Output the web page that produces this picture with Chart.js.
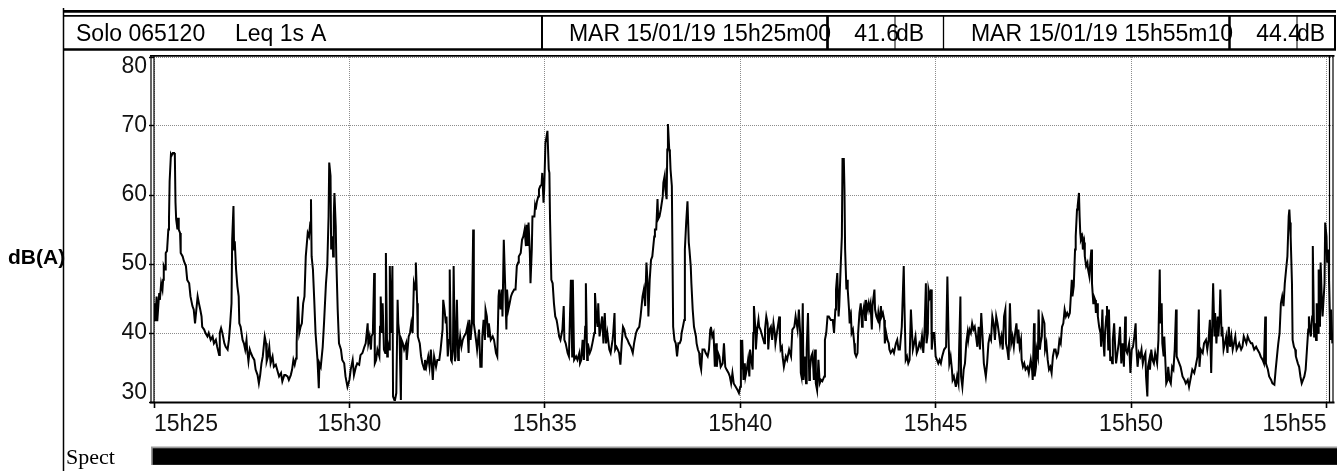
<!DOCTYPE html>
<html>
<head>
<meta charset="utf-8">
<script src="https://cdn.jsdelivr.net/npm/chart.js@4.4.1/dist/chart.umd.min.js"></script>
<style>
  html, body { margin: 0; padding: 0; background: #fff; }
  #wrap { width: 1341px; height: 471px; }
</style>
</head>
<body>
<div id="wrap"><canvas id="levelChart" width="1341" height="471"></canvas></div>
<script>
// Seconds after 15h25m00
const times = [
  0, 1, 2, 4, 5, 8, 9, 11, 13, 14,
  15, 17, 18, 20, 22, 23, 24, 26, 27, 29,
  31, 32, 33, 34, 36, 37, 38, 40, 41, 44,
  46, 49, 51, 54, 56, 59, 61, 63, 65, 67,
  69, 71, 73, 74, 77, 79, 82, 84, 87, 90,
  92, 95, 97, 100, 101, 103, 105, 108, 110, 113,
  115, 117, 119, 120, 122, 123, 124, 126, 128, 130,
  131, 133, 136, 138, 140, 142, 143, 145, 147, 148,
  151, 154, 156, 159, 161, 163, 165, 167, 170, 172,
  173, 175, 177, 179, 182, 184, 187, 189, 192, 195,
  197, 200, 202, 205, 207, 210, 212, 214, 216, 218,
  219, 221, 223, 225, 227, 229, 231, 233, 236, 238,
  240, 241, 242, 244, 246, 248, 251, 253, 254, 256,
  259, 261, 264, 266, 268, 269, 271, 272, 274, 275,
  276, 277, 279, 280, 282, 284, 287, 289, 292, 294,
  297, 300, 302, 305, 307, 310, 312, 315, 317, 320,
  323, 325, 328, 329, 331, 333, 334, 336, 338, 339,
  341, 343, 346, 347, 348, 350, 351, 353, 355, 356,
  358, 359, 361, 362, 364, 366, 367, 369, 370, 372,
  374, 375, 377, 379, 380, 382, 384, 387, 388, 391,
  393, 395, 397, 399, 401, 402, 404, 405, 408, 410,
  412, 415, 416, 418, 421, 423, 425, 428, 430, 433,
  435, 438, 440,
  443, 444, 446, 448, 449, 451, 453, 454, 456, 457,
  459, 460, 462, 463, 465, 467, 468, 470, 472, 474,
  476, 479, 481, 483, 484, 486, 488, 490, 491, 493,
  495, 496, 499, 501, 503, 504, 506, 508, 509, 511,
  513, 514, 517, 520, 522, 525, 527, 529, 530, 532,
  534, 535, 537, 539, 541, 542, 544, 546, 548, 550,
  553, 555, 557, 559, 560, 563, 565, 567, 569, 571,
  572, 574, 575, 577, 578, 580, 581, 584, 585, 586,
  588, 590, 591, 593, 595, 596, 598, 599, 601, 602,
  604, 606, 607, 608, 610, 612, 614, 616, 618, 619,
  622, 624, 627, 629, 630, 632, 635, 637, 640, 642,
  643, 645, 648, 650, 653, 654, 656, 658, 660, 662,
  663, 665, 666, 669, 671, 673, 676, 677, 679, 681,
  682, 684, 686, 688, 690, 692, 694, 696, 699, 701,
  704, 705, 707, 708, 710, 712, 714, 716, 718, 720,
  722, 724, 727, 729, 732, 735, 737, 740, 742, 745,
  747, 750, 752, 754, 756, 758, 759, 761, 763, 765,
  768, 769, 771, 773, 774, 776, 778, 781, 782, 784,
  785, 787, 788, 789, 791, 792, 793, 795, 797, 799,
  801, 803, 805, 807, 809, 810, 812, 814, 815, 817,
  819, 821, 822, 824, 825, 827, 829, 832, 833, 835,
  837, 838, 840, 842, 845, 847, 850, 852, 854, 855,
  857, 859, 861, 863, 864, 866, 868, 870, 873, 875,
  877, 879, 882, 884, 886,
  888, 890, 893, 896, 898, 900, 901, 902, 903, 905,
  907, 908, 910, 912, 914, 915, 917, 919, 920, 921,
  923, 924, 926, 928, 929, 931, 934, 937, 938, 940,
  942, 943, 945, 947, 949, 951, 953, 954, 957, 960,
  961, 962, 964, 965, 967, 970, 972, 975, 978, 980,
  983, 985, 988, 990, 992, 993, 994, 996, 997, 999,
  1001, 1002, 1004, 1006, 1007, 1009, 1011, 1013, 1015, 1016,
  1018, 1020, 1022, 1024, 1026, 1029, 1030, 1032, 1034, 1036,
  1039, 1042, 1044, 1046, 1047, 1049, 1051, 1052, 1054, 1056,
  1057, 1059, 1060, 1061, 1063, 1064, 1065, 1067, 1068, 1070,
  1071, 1073, 1075, 1076, 1078, 1080, 1081, 1083, 1085, 1087,
  1088, 1090, 1092, 1093, 1095, 1097, 1098, 1100, 1102, 1103,
  1106, 1107, 1109, 1111, 1112, 1114, 1116, 1117, 1119, 1121,
  1122, 1124, 1126, 1128, 1129, 1131, 1134, 1136, 1139, 1141,
  1143, 1145, 1148, 1149, 1151, 1152, 1154, 1156, 1158, 1160,
  1162, 1163, 1165, 1167, 1169, 1171, 1173, 1175, 1177, 1179,
  1181, 1183, 1185, 1186, 1188, 1189, 1191, 1193, 1194, 1196,
  1198, 1200, 1202, 1204, 1206, 1208, 1210, 1213, 1216, 1218,
  1220, 1221, 1223, 1225, 1226, 1228, 1230, 1231, 1233, 1235,
  1236, 1238, 1239, 1241, 1243, 1245, 1247, 1249, 1250, 1252,
  1254, 1256, 1258, 1260, 1262, 1264, 1266, 1268, 1270, 1272,
  1274, 1277, 1279, 1281, 1283, 1285, 1287, 1289, 1291, 1293,
  1295, 1297, 1299, 1301, 1303, 1305, 1307, 1308, 1310, 1312,
  1314, 1316, 1318, 1320, 1322, 1324, 1326, 1327, 1329, 1331,
  1332, 1334, 1336, 1338, 1341, 1343, 1346, 1348, 1349, 1351,
  1352, 1354, 1355, 1357, 1358, 1360, 1361, 1363, 1364, 1367,
  1368, 1370, 1372, 1374, 1376, 1378, 1380, 1382, 1384, 1386,
  1388, 1390, 1392, 1394, 1396, 1398, 1400, 1402, 1404, 1406,
  1409, 1410, 1412, 1414, 1415, 1417, 1418, 1420, 1421, 1422,
  1423, 1425, 1426, 1428, 1429, 1431, 1433, 1434, 1436, 1437,
  1439, 1440, 1442, 1443, 1445, 1446, 1448, 1449, 1451, 1453,
  1454, 1456, 1457, 1459, 1460, 1462, 1463, 1465, 1466, 1468,
  1469, 1471, 1472, 1474, 1476, 1477, 1479, 1481, 1483, 1485,
  1487, 1489, 1491, 1492, 1494, 1497, 1499, 1501, 1503, 1505,
  1507, 1508, 1510, 1512, 1514, 1516, 1518, 1520, 1522, 1523,
  1525, 1526, 1528, 1529, 1531, 1533, 1535, 1537, 1540, 1542,
  1544, 1545, 1547, 1548, 1550, 1551, 1553, 1554, 1556, 1557,
  1559, 1561, 1563, 1565, 1567, 1569, 1570, 1572, 1574, 1576,
  1579, 1582, 1584, 1587, 1589, 1592, 1594, 1597, 1599, 1602,
  1604, 1605, 1607, 1610, 1612, 1615, 1617, 1619, 1621, 1623,
  1625, 1626, 1628, 1629, 1631, 1633, 1634, 1636, 1637, 1639,
  1640, 1642, 1644, 1646, 1648, 1650, 1652, 1654, 1656, 1658,
  1660, 1662, 1664, 1666, 1669, 1671, 1673, 1675, 1677, 1679,
  1681, 1684, 1686, 1689, 1692, 1694, 1697, 1699, 1702, 1704,
  1706, 1707, 1710, 1712, 1715, 1717, 1720, 1722, 1725, 1726,
  1728, 1730, 1732, 1734, 1736, 1738, 1740, 1742, 1743, 1744,
  1745, 1747, 1748, 1750, 1752, 1753, 1756, 1758, 1760, 1762,
  1764, 1766, 1768, 1770, 1772, 1773, 1775, 1776, 1778, 1779,
  1781, 1782, 1784, 1785, 1787, 1788, 1790, 1791, 1793, 1794,
  1797, 1798, 1800, 1801, 1803, 1804, 1806, 1807, 1809
];

// Leq 1s, dB(A)
const levels = [
  41.9, 44.3, 41.7, 45.3, 41.7, 45.8, 44.8, 47.2, 46.3, 47.7,
  49.7, 49.2, 51.6, 51.9, 55.0, 56.5, 62.0, 65.9, 65.7, 66.1,
  66.1, 65.7, 58.9, 56.5, 55.0, 56.7, 55.0, 54.5, 51.6, 51.1,
  50.4, 49.7, 47.7, 47.2, 45.3, 43.9, 43.4, 41.4, 43.4, 45.3,
  44.3, 43.4, 42.4, 40.9, 40.5, 40.0, 39.5, 40.0, 39.0, 39.5,
  38.5, 39.0, 38.0, 36.8, 40.0, 40.7, 40.0, 38.5, 38.0, 37.6,
  39.0, 41.4, 44.3, 53.5, 58.4, 52.1, 53.3, 49.2, 46.8, 45.3,
  41.4, 40.9, 39.0, 38.5, 37.6, 39.0, 37.6, 35.9, 37.6, 37.3,
  36.6, 36.1, 34.7, 33.9, 32.7, 33.9, 35.6, 36.6, 39.5, 38.5,
  35.9, 36.6, 38.0, 35.6, 36.6, 35.1, 35.4, 34.7, 33.7, 34.2,
  33.0, 33.9, 33.9, 33.7, 33.2, 33.9, 34.7, 36.1, 35.4, 36.3,
  38.5, 45.3, 40.0, 40.9, 41.4, 44.3, 45.3, 51.1, 54.5, 54.0,
  56.0, 59.4, 51.1, 49.2, 44.8, 40.0, 36.1, 32.0, 35.6, 35.1,
  38.0, 41.4, 47.2, 49.7, 56.9, 64.7, 62.8, 52.1, 54.0, 51.1,
  56.9, 60.3, 55.5, 50.2, 43.4, 38.5, 37.6, 36.1, 35.6, 33.7,
  32.2, 33.2, 34.7, 36.1, 33.9, 35.1, 35.6, 35.4, 36.8, 37.1,
  38.0, 38.5, 41.4, 38.5, 39.5, 37.6, 39.5, 40.0, 48.7, 35.6,
  36.1, 37.6, 36.6, 40.9, 45.3, 40.0, 44.3, 37.6, 37.1, 51.6,
  36.6, 38.5, 37.6, 49.7, 40.0, 49.7, 30.8, 30.3, 30.3, 31.3,
  44.8, 41.4, 39.5, 30.3, 39.0, 38.5, 37.6, 38.5, 36.1, 39.5,
  40.0, 41.4, 40.0, 47.2, 46.3, 50.2, 44.3, 39.5, 38.5, 36.6,
  35.6, 34.7, 36.1, 35.1, 36.6, 35.1, 37.6, 33.2, 36.6, 35.1,
  36.1, 36.1, 37.6,
  40.5, 44.8, 43.4, 41.4, 42.4, 36.6, 39.0, 49.2, 36.1, 35.9,
  37.6, 49.7, 35.9, 36.6, 44.8, 36.1, 37.6, 39.5, 38.0, 39.0,
  39.5, 40.0, 40.9, 37.1, 41.9, 39.0, 41.4, 55.0, 41.4, 40.0,
  38.5, 37.6, 40.5, 35.1, 35.1, 39.5, 41.9, 39.0, 43.4, 42.4,
  39.5, 41.4, 39.0, 39.5, 39.0, 37.1, 36.6, 45.3, 46.3, 43.4,
  46.3, 42.4, 53.5, 47.2, 40.5, 46.3, 43.4, 44.3, 45.3, 45.8,
  46.3, 46.3, 49.7, 50.2, 51.1, 51.6, 53.5, 54.0, 55.0, 52.6,
  55.7, 52.6, 56.0, 51.6, 47.2, 52.1, 56.9, 56.9, 58.4, 57.9,
  59.1, 59.8, 60.8, 61.3, 61.5, 63.2, 58.9, 60.8, 67.6, 68.1,
  69.3, 63.7, 63.2, 56.5, 47.7, 47.2, 44.3, 42.4, 41.9, 41.4,
  39.5, 39.0, 40.5, 43.9, 39.0, 38.5, 37.1, 36.6, 47.7, 36.6,
  47.7, 36.1, 36.6, 36.1, 37.1, 35.6, 36.1, 39.0, 36.1, 40.9,
  47.2, 36.1, 38.5, 37.1, 37.6, 38.5, 40.0, 45.8, 42.4, 40.9,
  44.3, 39.5, 40.9, 42.4, 38.5, 42.9, 38.5, 40.0, 37.6, 37.1,
  39.0, 40.0, 42.9, 37.6, 38.0, 37.6, 37.1, 35.4, 38.5, 40.9,
  40.5, 39.5, 39.0, 38.5, 38.0, 37.1, 38.5, 40.0, 40.5, 40.9,
  42.4, 45.3, 46.3, 43.9, 50.2, 46.8, 42.4, 47.7, 50.6, 51.1,
  54.0, 55.0, 55.0, 59.4, 56.5, 56.9, 57.9, 59.8, 61.8, 62.8,
  60.8, 59.4, 66.6, 70.3, 66.6, 66.1, 63.7, 61.3, 40.9, 39.0,
  38.5, 36.6, 38.5, 38.5, 39.0, 40.0, 40.9, 41.9, 52.1, 56.0,
  59.1, 53.1, 52.1, 49.7, 47.2, 43.4, 40.9, 39.5, 38.5, 37.6,
  37.1, 35.6, 34.7, 37.6, 37.6, 37.1, 36.6, 37.6, 40.5, 40.9,
  39.5, 40.0, 35.1, 38.5, 35.1, 37.1, 36.6, 35.1, 35.6, 38.5,
  35.1, 34.7, 34.2, 33.7, 32.7,
  34.2, 32.7, 32.2, 31.7, 31.3, 32.2, 39.0, 34.7, 39.0, 33.2,
  35.6, 33.7, 34.7, 36.1, 33.7, 37.6, 36.1, 34.7, 40.0, 43.9,
  40.9, 37.6, 40.5, 41.9, 40.9, 40.5, 39.5, 38.5, 40.5, 42.4,
  41.4, 37.6, 40.5, 40.9, 39.0, 41.4, 40.0, 38.5, 40.5, 42.4,
  39.0, 37.6, 38.0, 36.6, 35.1, 36.6, 36.1, 37.6, 36.6, 40.5,
  40.9, 42.4, 40.5, 43.4, 40.0, 34.2, 33.7, 44.3, 33.2, 36.6,
  32.7, 37.6, 42.9, 33.2, 34.7, 36.6, 37.1, 33.2, 37.6, 32.7,
  31.7, 36.1, 32.7, 33.2, 33.0, 33.7, 39.0, 40.0, 42.4, 42.4,
  41.9, 41.9, 40.0, 43.4, 46.3, 48.7, 42.4, 43.9, 49.2, 54.0,
  65.2, 65.2, 60.8, 52.1, 46.3, 47.7, 46.3, 43.4, 41.4, 42.4,
  40.0, 40.5, 38.5, 37.1, 36.6, 37.1, 40.0, 42.9, 44.3, 40.9,
  42.9, 43.9, 41.9, 44.8, 43.4, 44.3, 43.4, 44.3, 40.5, 43.9,
  46.3, 43.4, 42.4, 41.9, 42.9, 41.4, 43.9, 42.4, 42.9, 41.9,
  38.5, 40.0, 39.0, 38.5, 37.6, 37.1, 37.6, 37.1, 38.5, 39.0,
  37.6, 37.6, 40.9, 43.9, 49.7, 44.3, 36.1, 36.6, 35.6, 36.1,
  43.4, 41.4, 37.6, 38.5, 39.5, 37.1, 37.6, 38.5, 38.0, 39.5,
  37.1, 40.5, 47.2, 38.5, 40.0, 46.3, 45.3, 46.3, 37.6, 40.0,
  40.0, 36.6, 36.1, 35.6, 36.1, 35.6, 36.6, 37.6, 38.0, 48.2,
  38.5, 35.6, 36.6, 34.7, 33.2, 33.7, 32.7, 32.2, 33.7, 32.7,
  37.6, 45.3, 33.7, 32.2, 34.7, 35.6, 38.5, 40.0, 39.0, 40.5,
  40.0, 41.4, 40.5, 40.9, 39.5, 38.0, 40.9, 37.6, 42.9, 39.5,
  35.6, 33.7, 35.6, 38.5, 39.5, 39.0, 42.4, 41.4, 39.0, 42.4,
  41.4, 40.0, 38.5, 39.5, 37.6, 42.4, 43.4, 38.5, 37.6, 36.1,
  44.3, 38.5, 39.5, 38.0, 40.0, 41.4, 38.5, 40.5, 38.0, 39.0,
  36.1, 35.1, 35.6, 34.7, 35.1, 34.2, 36.1, 34.7, 33.2, 41.4,
  33.7, 35.1, 37.6, 36.6, 43.4, 37.6, 38.5, 39.5, 42.4, 41.4,
  37.6, 38.5, 36.1, 34.7, 35.1, 34.2, 36.6, 37.6, 37.6, 36.6,
  37.1, 39.0, 38.5, 40.9, 41.4, 43.4, 42.4, 42.9, 42.4, 42.9,
  47.7, 45.3, 46.8, 52.1, 54.0, 57.9, 58.4, 60.3, 56.9, 54.5,
  53.5, 54.0, 52.1, 53.1, 51.1, 49.7, 50.2, 49.2, 48.2, 49.7,
  52.1, 47.2, 44.3, 45.3, 44.8, 42.9, 44.3, 42.4, 40.9, 40.0,
  38.0, 43.4, 39.5, 36.6, 40.0, 42.4, 43.9, 37.6, 43.4, 36.1,
  36.6, 35.6, 39.0, 41.4, 37.1, 35.6, 37.1, 38.5, 40.9, 35.6,
  38.5, 35.1, 42.4, 37.6, 37.1, 38.5, 34.2, 37.6, 38.0, 39.5,
  41.4, 38.0, 35.1, 37.1, 36.6, 37.6, 35.6, 36.6, 37.1, 33.7,
  30.8, 35.1, 36.1, 34.7, 37.6, 36.1, 35.6, 37.1, 35.6, 39.0,
  49.2, 41.4, 44.3, 38.5, 36.6, 39.5, 35.1, 32.7, 33.2, 35.1,
  33.2, 32.7, 35.1, 34.7, 37.6, 43.4, 36.6, 36.1, 35.6, 35.1,
  33.7, 33.2, 32.7, 33.2, 32.2, 33.7, 34.7, 34.2, 35.1, 36.6,
  43.4, 35.1, 37.6, 37.1, 38.5, 39.0, 37.6, 39.0, 41.9, 34.2,
  42.9, 47.2, 39.5, 42.9, 38.5, 42.4, 39.5, 42.4, 46.3, 39.5,
  40.9, 37.6, 38.5, 39.5, 37.1, 40.9, 38.0, 39.5, 37.6, 38.5,
  39.5, 37.6, 38.0, 38.5, 37.6, 38.0, 39.5, 39.0, 38.5, 39.5,
  39.0, 38.5, 38.5, 37.6, 38.0, 37.6, 37.1, 36.6, 36.1, 35.6,
  42.4, 35.6, 34.7, 33.7, 33.2, 32.7, 32.5, 34.7, 37.6, 38.5,
  40.0, 44.3, 45.3, 43.9, 47.2, 49.2, 51.1, 56.9, 57.9, 56.0,
  54.0, 47.2, 39.0, 38.0, 37.6, 36.6, 35.6, 35.1, 33.7, 32.7,
  33.2, 33.7, 34.7, 37.6, 40.5, 42.4, 40.0, 39.5, 42.4, 52.6,
  39.5, 41.4, 39.0, 44.3, 40.0, 49.2, 40.9, 50.2, 44.3, 42.4,
  47.2, 56.0, 54.0, 50.2, 52.1, 47.2, 39.0, 43.4, 38.5
];

const timeTicks = [0, 300, 600, 900, 1200, 1500, 1800];
const timeLabels = ['15h25', '15h30', '15h35', '15h40', '15h45', '15h50', '15h55'];
const levelTicks = [30, 40, 50, 60, 70, 80];

const FONT = '"Liberation Sans", Arial, sans-serif';
const ctx = document.getElementById('levelChart').getContext('2d');

// Header, frame and "Spect" strip around the plot
const decorations = {
  id: 'decorations',
  beforeDraw(chart) {
    const c = chart.ctx;
    c.save();
    c.fillStyle = '#fff';
    c.fillRect(0, 0, chart.width, chart.height);
    c.restore();
  },
  afterDraw(chart) {
    const c = chart.ctx;
    const a = chart.chartArea;
    c.save();
    c.strokeStyle = '#000';
    c.fillStyle = '#000';

    // y title (drawn first so the left rule crosses it)
    c.font = 'bold 21px ' + FONT;
    c.textAlign = 'left';
    c.fillText('dB(A)', 8, 264);

    // long left rule
    c.lineWidth = 1.5;
    c.beginPath();
    c.moveTo(63.5, 8);
    c.lineTo(63.5, 471);
    c.stroke();

    // header rules
    c.lineWidth = 2.8;
    c.beginPath();
    c.moveTo(63, 11.3);
    c.lineTo(1336, 11.3);
    c.stroke();
    c.lineWidth = 1.8;
    c.beginPath();
    c.moveTo(63, 15.8);
    c.lineTo(1336, 15.8);
    c.stroke();
    c.lineWidth = 2.4;
    c.beginPath();
    c.moveTo(63, 49.5);
    c.lineTo(1336, 49.5);
    c.stroke();

    // header texts
    c.font = '23px ' + FONT;
    c.textBaseline = 'alphabetic';
    c.textAlign = 'left';
    c.fillText('Solo 065120', 76, 41);
    c.fillText('Leq 1s', 235, 41);
    c.fillText('A', 311, 41);
    c.textAlign = 'right';
    c.fillText('MAR 15/01/19 15h25m00', 831, 41);
    c.fillText('41.6', 899, 41);
    c.fillText('MAR 15/01/19 15h55m10', 1233, 41);
    c.fillText('44.4', 1301, 41);
    c.textAlign = 'left';
    c.fillText('dB', 896, 41);
    c.fillText('dB', 1297, 41);

    // header box separators
    const seps = [[542, 2], [827.5, 2.7], [895, 1], [943.5, 1.3], [1229.5, 2.5], [1297, 1], [1335, 2]];
    seps.forEach(([x, w]) => {
      c.lineWidth = w;
      c.beginPath();
      c.moveTo(x, 15);
      c.lineTo(x, 50);
      c.stroke();
    });

    // plot frame
    c.lineWidth = 1.8;
    c.beginPath();
    c.moveTo(150, 55.8);
    c.lineTo(a.right + 1.5, 55.8);
    c.stroke();
    c.lineWidth = 2.2;
    c.beginPath();
    c.moveTo(150, a.bottom + 0.5);
    c.lineTo(a.right + 1.5, a.bottom + 0.5);
    c.stroke();
    c.lineWidth = 1.2;
    [a.left - 3, a.left, a.right - 3.5, a.right].forEach((x) => {
      c.beginPath();
      c.moveTo(x, 55.5);
      c.lineTo(x, a.bottom + 1);
      c.stroke();
    });

    // Spect strip
    c.font = '22px "Liberation Serif", "Times New Roman", serif';
    c.fillText('Spect', 66, 464);
    c.fillStyle = '#9a9a9a';
    c.fillRect(151, 446.5, 1186, 18.5);
    c.fillStyle = '#000';
    c.fillRect(152.7, 448.3, 1184.3, 16.5);
    c.restore();
  }
};

const levelChart = new Chart(ctx, {
  type: 'line',
  data: {
    datasets: [
      {
        data: times.map((t, i) => ({ x: t, y: levels[i] })),
        borderColor: '#000',
        borderWidth: 2,
        pointRadius: 0,
        tension: 0,
        fill: false,
      },
    ],
  },
  options: {
    responsive: false,
    animation: false,
    events: [],
    layout: {
      padding: { top: 57, right: 8, bottom: 0, left: 0 },
    },
    plugins: {
      legend: { display: false },
      tooltip: { enabled: false },
    },
    scales: {
      x: {
        type: 'linear',
        min: 0,
        max: 1810,
        afterBuildTicks: (scale) => {
          scale.ticks = timeTicks.map((v) => ({ value: v }));
        },
        afterFit: (scale) => {
          scale.height = 69;
        },
        grid: {
          color: '#8c8c8c',
          lineWidth: 1,
          tickLength: 6,
          tickColor: '#000',
          tickWidth: 1.6,
          tickBorderDash: [],
        },
        border: { display: false, dash: [1, 1] },
        ticks: {
          autoSkip: false,
          maxRotation: 0,
          align: 'inner',
          padding: 3,
          color: '#111',
          font: { family: FONT, size: 23 },
          callback: function (value) {
            return timeLabels[timeTicks.indexOf(value)];
          },
        },
      },
      y: {
        min: 30,
        max: 80,
        afterBuildTicks: (scale) => {
          scale.ticks = levelTicks.map((v) => ({ value: v }));
        },
        afterFit: (scale) => {
          scale.width = 154;
        },
        grid: {
          color: '#8c8c8c',
          lineWidth: 1,
          tickLength: 5,
          tickColor: '#000',
          tickWidth: 1.4,
          tickBorderDash: [],
        },
        border: { display: false, dash: [1, 1] },
        ticks: {
          padding: 2,
          color: '#111',
          font: { family: FONT, size: 23, lineHeight: 0.8 },
          // keep the end labels inside the plot, as in the original
          callback: function (value) {
            if (value === 80) return ['', '80'];
            if (value === 30) return ['30', ''];
            return String(value);
          },
        },
      },
    },
  },
  plugins: [decorations],
});
</script>
</body>
</html>
